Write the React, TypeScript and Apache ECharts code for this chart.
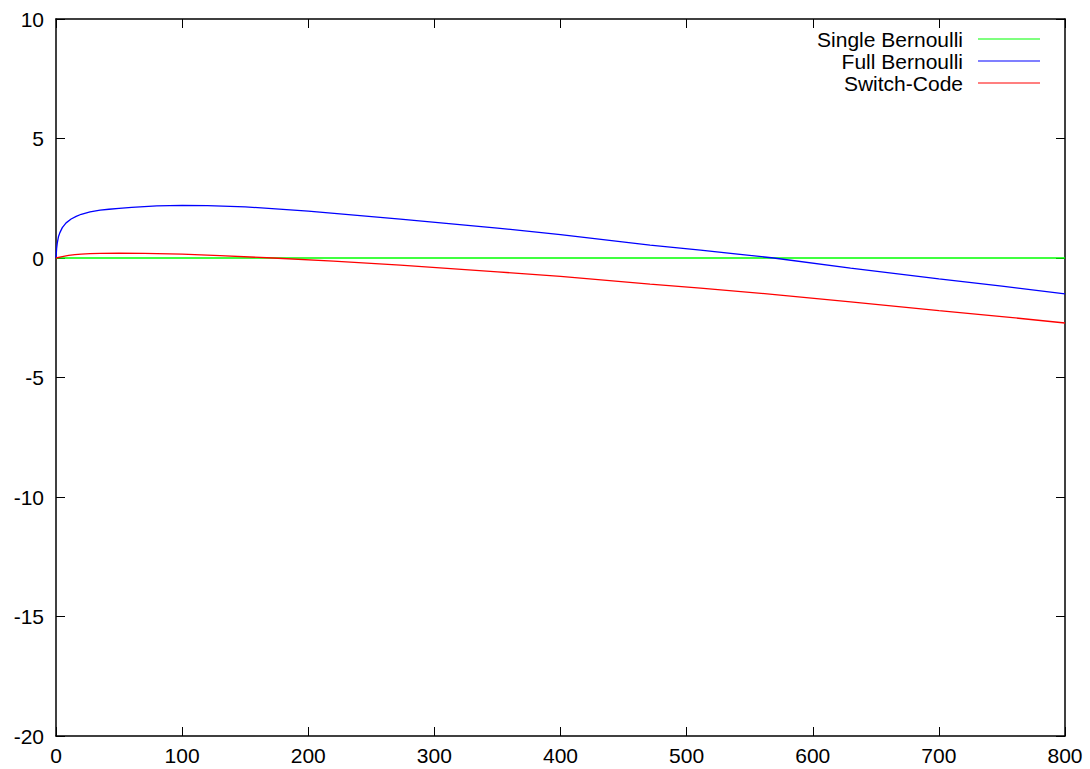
import React, { useEffect, useRef } from "react";
import * as echarts from "echarts";

// ---- data ----
const seriesNames = ["Single Bernoulli", "Full Bernoulli", "Switch-Code"];
const seriesColors = ["#00ff00", "#0000ff", "#ff0000"];

const singleX = [0, 800];
const singleY = [0, 0];

const fullX = [0, 0.5, 1, 2, 3, 5, 8, 12, 16, 20, 27, 35, 42, 50, 60, 70, 80, 90, 100, 120, 150, 200, 273, 350, 400, 471, 511, 569, 630, 700, 750, 800];
const fullY = [0, 0.4, 0.62, 0.9, 1.05, 1.27, 1.47, 1.63, 1.74, 1.83, 1.93, 2.0, 2.04, 2.08, 2.12, 2.15, 2.18, 2.19, 2.2, 2.19, 2.14, 1.96, 1.63, 1.25, 0.98, 0.54, 0.33, 0.0, -0.42, -0.87, -1.18, -1.5];

const switchX = [0, 5, 10, 15, 20, 27, 35, 50, 70, 100, 130, 172, 220, 273, 350, 400, 471, 511, 570, 630, 700, 750, 800];
const switchY = [0, 0.06, 0.11, 0.14, 0.16, 0.18, 0.19, 0.2, 0.19, 0.16, 0.1, 0, -0.13, -0.3, -0.58, -0.77, -1.09, -1.26, -1.53, -1.84, -2.2, -2.45, -2.72];

const xMin = 0, xMax = 800, xStep = 100;
const yMin = -20, yMax = 10, yStep = 5;

const zip = (xs: number[], ys: number[]) => xs.map((x, i) => [x, ys[i]]);

export default function App() {
  const ref = useRef<HTMLDivElement>(null);
  useEffect(() => {
    if (!ref.current) return;
    const chart = echarts.init(ref.current, null, { renderer: "svg" });
    const font = "'Liberation Sans', Arial, Helvetica, sans-serif";
    const axisCommon = {
      type: "value" as const,
      axisLine: { show: true, onZero: false, lineStyle: { color: "#000", width: 1.5 } },
      axisTick: { show: true, inside: true, length: 9, lineStyle: { color: "#000", width: 1 } },
      splitLine: { show: false },
    };
    const datas = [zip(singleX, singleY), zip(fullX, fullY), zip(switchX, switchY)];
    chart.setOption({
      animation: false,
      backgroundColor: "#fff",
      grid: { left: 56, right: 25, top: 19, bottom: 33, containLabel: false },
      xAxis: [
        {
          ...axisCommon,
          position: "bottom",
          min: xMin, max: xMax, interval: xStep,
          axisLabel: { show: true, margin: 9, color: "#000", fontSize: 21, fontFamily: font },
        },
        {
          ...axisCommon,
          position: "top",
          min: xMin, max: xMax, interval: xStep,
          axisLabel: { show: false },
        },
      ],
      yAxis: [
        {
          ...axisCommon,
          position: "left",
          min: yMin, max: yMax, interval: yStep,
          axisLabel: { show: true, margin: 12, color: "#000", fontSize: 21, fontFamily: font },
        },
        {
          ...axisCommon,
          position: "right",
          min: yMin, max: yMax, interval: yStep,
          axisLabel: { show: false },
        },
      ],
      legend: {
        show: true,
        orient: "vertical",
        right: 45,
        top: 23,
        align: "right",
        itemGap: 0,
        itemWidth: 62,
        itemHeight: 1.2,
        icon: "rect",
        data: seriesNames,
        textStyle: {
          fontSize: 21,
          fontFamily: font,
          color: "#000",
          lineHeight: 22,
          padding: [0, 10, 0, 0],
        },
      },
      series: seriesNames.map((name, i) => ({
        name,
        type: "line",
        xAxisIndex: 0,
        yAxisIndex: 0,
        data: datas[i],
        showSymbol: false,
        symbol: "none",
        smooth: false,
        color: seriesColors[i],
        itemStyle: { color: seriesColors[i] },
        lineStyle: { color: seriesColors[i], width: 1.3 },
        z: 2 + i,
      })),
    });
    return () => chart.dispose();
  }, []);
  return (
    <div
      ref={ref}
      style={{ position: "fixed", left: 0, top: 0, width: 1090, height: 769, background: "#fff" }}
    />
  );
}
